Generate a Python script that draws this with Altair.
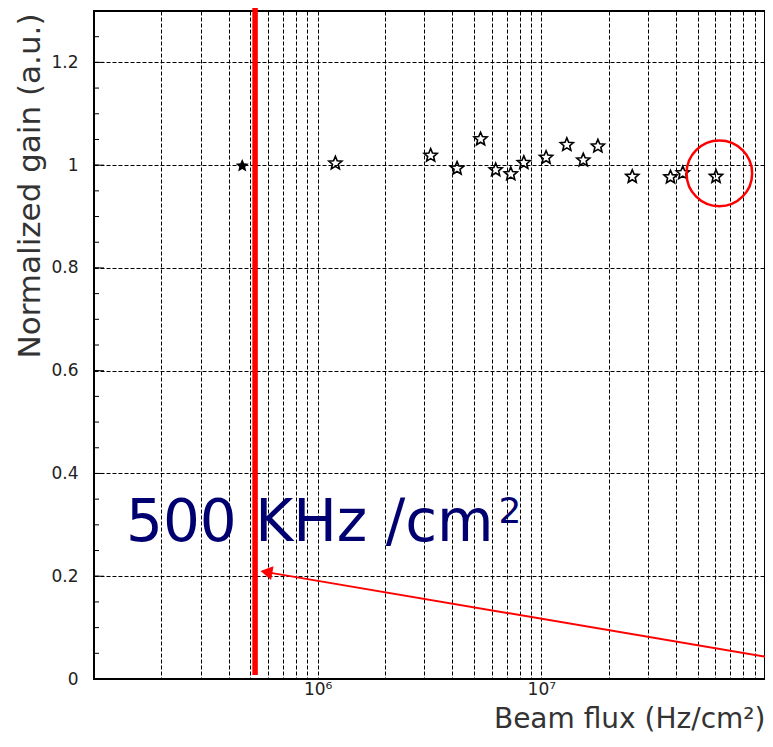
import math
import altair as alt
import pandas as pd

# ---- data ----
flux = [4.6e5, 1.2e6, 3.2e6, 4.2e6, 5.35e6, 6.25e6, 7.3e6, 8.35e6, 1.05e7,
        1.3e7, 1.54e7, 1.79e7, 2.55e7, 3.78e7, 4.29e7, 6.04e7]
gain = [1.0, 1.005, 1.02, 0.995, 1.052, 0.992, 0.984, 1.006, 1.016,
        1.041, 1.011, 1.038, 0.979, 0.978, 0.986, 0.979]
filled = ["yes"] + ["no"] * 15

x_grid = [float(k * 10 ** n) for n in (5, 6, 7) for k in range(1, 10)] + [1e8]
y_major = [0, 0.2, 0.4, 0.6, 0.8, 1.0, 1.2]
y_minor = [round(0.05 * i, 2) for i in range(27)]

# annotations
limit_x = [5.25e5]
limit_y = [1.31]
limit_y2 = [0.008]
circle_x = [6.25e7]
circle_y = [0.984]
arrow_x = [1.05e8]
arrow_y = [0.042]
arrow_x2 = [5.9e5]
arrow_y2 = [0.208]
head_x = [5.9e5]
head_y = [0.208]
label_text = ["500 KHz /cm"]
label_x = [1.39e5]
label_y = [0.268]
sup_text = ["2"]
sup_x = [6.44e6]
sup_y = [0.304]

# star symbol path (unit box)
_pts = []
for i in range(10):
    r = 1.0 if i % 2 == 0 else 0.45
    a = math.radians(-90 + 36 * i)
    _pts.append(f"{r * math.cos(a):.3f},{r * math.sin(a) + 0.1:.3f}")
STAR = "M" + "L".join(_pts) + "Z"

W, H = 671, 668
xs = alt.Scale(type="log", domain=[1e5, 1e8], nice=False)
ys = alt.Scale(domain=[0, 1.3], nice=False, zero=False)

x_axis = alt.Axis(
    values=x_grid,
    labelExpr="datum.value == 1000000 ? '10⁶' : (datum.value == 10000000 ? '10⁷' : '')",
    labelOverlap=False, labelFlush=False,
    labelFont="DejaVu Sans", labelFontSize=17, labelColor="#222",
    labelPadding=2,
    grid=True, gridColor="black", gridDash=[4, 2], gridOpacity=1, gridWidth=1,
    ticks=False, domain=False,
    title="Beam flux (Hz/cm²)", titleFont="DejaVu Sans", titleFontSize=28,
    titleFontWeight="normal", titleColor="#333",
    titleAlign="right", titleBaseline="alphabetic", titleAngle=0,
    titleX=W, titleY=48,
)
y_axis = alt.Axis(
    values=y_major, format="~g",
    labelFont="DejaVu Sans", labelFontSize=17, labelColor="#222",
    labelPadding=16,
    grid=True, gridColor="black", gridDash=[4, 2], gridOpacity=1, gridWidth=1,
    ticks=False, domain=False,
    title="Normalized gain (a.u.)", titleFont="DejaVu Sans", titleFontSize=31,
    titleFontWeight="normal", titleColor="#333",
    titleAlign="right", titleBaseline="alphabetic", titleAngle=270,
    titleX=-55, titleY=2,
)


def X(f="x"):
    return alt.X(f"{f}:Q", scale=xs, axis=x_axis)


def Y(f="y"):
    return alt.Y(f"{f}:Q", scale=ys, axis=y_axis)


pts = pd.DataFrame({"x": flux, "y": gain, "filled": filled})
base = alt.Chart(pts)

open_pts = base.transform_filter("datum.filled == 'no'").mark_point(
    shape=STAR, size=190, strokeWidth=1.6, color="black", filled=False, opacity=1).encode(
    x=X(), y=Y())
full_pts = base.transform_filter("datum.filled == 'yes'").mark_point(
    shape=STAR, size=190, strokeWidth=1.6, color="black", filled=True, opacity=1).encode(
    x=X(), y=Y())

minor = alt.Chart(pd.DataFrame({"y": y_minor})).mark_rule(color="black", strokeWidth=1).encode(
    y=Y(), x=alt.value(0), x2=alt.value(5))
major = alt.Chart(pd.DataFrame({"y": y_major})).mark_rule(color="black", strokeWidth=1).encode(
    y=Y(), x=alt.value(0), x2=alt.value(10))

limit = alt.Chart(pd.DataFrame({"x": limit_x, "y": limit_y, "y2": limit_y2})).mark_rule(
    color="#ff0000", strokeWidth=5.5, clip=False).encode(
    x=X(), y=Y(), y2="y2:Q")

circle = alt.Chart(pd.DataFrame({"x": circle_x, "y": circle_y})).mark_point(
    shape="circle", size=4300, color="#ff0000", strokeWidth=2.5, filled=False, opacity=1).encode(
    x=X(), y=Y())

arrow = alt.Chart(pd.DataFrame({"x": arrow_x, "y": arrow_y, "x2": arrow_x2, "y2": arrow_y2})).mark_rule(
    color="#ff0000", strokeWidth=2, clip=False).encode(
    x=X(), x2="x2:Q", y=Y(), y2="y2:Q")

head = alt.Chart(pd.DataFrame({"x": head_x, "y": head_y})).mark_point(
    shape="triangle-left", size=190, filled=True, color="#ff0000", opacity=1, angle=10).encode(
    x=X(), y=Y())

label = alt.Chart(pd.DataFrame({"x": label_x, "y": label_y, "t": label_text})).mark_text(
    font="DejaVu Sans", fontSize=58, color="#000070", align="left", baseline="alphabetic").encode(
    x=X(), y=Y(), text="t:N")
sup = alt.Chart(pd.DataFrame({"x": sup_x, "y": sup_y, "t": sup_text})).mark_text(
    font="DejaVu Sans", fontSize=36, color="#000070", align="left", baseline="alphabetic").encode(
    x=X(), y=Y(), text="t:N")

chart = alt.layer(open_pts, full_pts, minor, major, limit, circle, arrow, head, label, sup).properties(
    width=W, height=H,
    padding={"left": 86, "top": 3, "right": 0, "bottom": 55},
    autosize="none",
    background="white",
).configure_view(stroke="black", strokeWidth=2)

chart.save("out.html", embed_options={"renderer": "svg", "actions": False})
